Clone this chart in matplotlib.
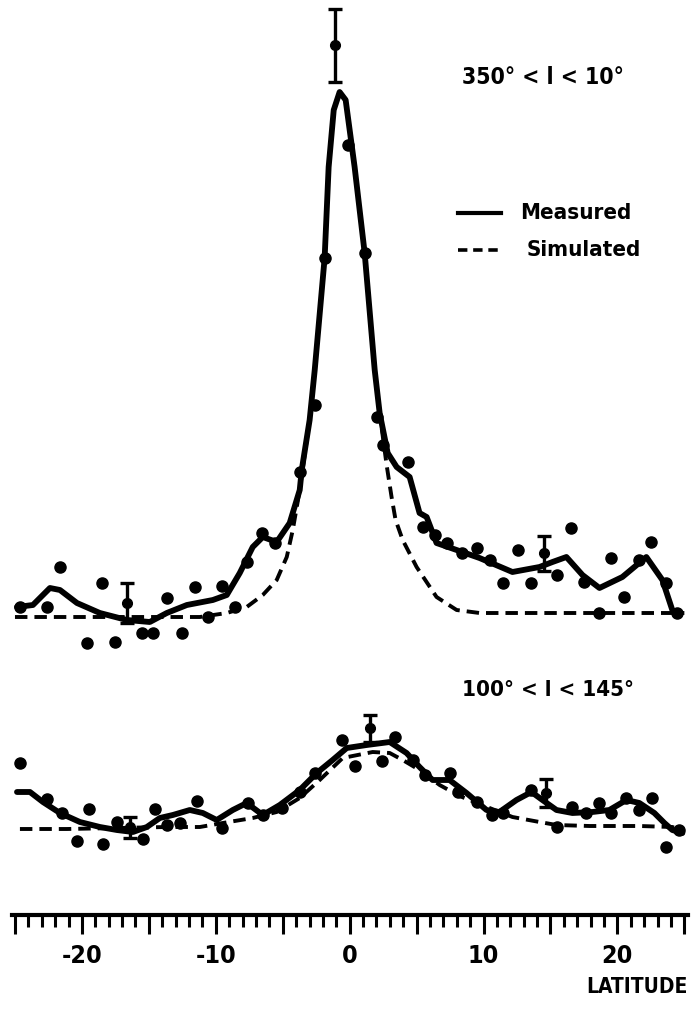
import matplotlib
matplotlib.use("Agg")
import matplotlib.pyplot as plt
from matplotlib.ticker import MultipleLocator

plt.rcParams['font.family'] = ['DejaVu Sans']
plt.rcParams['font.stretch'] = 'condensed'
plt.rcParams['font.weight'] = 'bold'

# --- upper panel: 350 < l < 10 (intensity relative to baseline, arbitrary units)
UP_MEAS_X = [-24.85, -23.66, -22.39, -21.64, -20.37, -18.66, -16.64, -14.93, -13.66, -12.16,
             -10.22, -9.18, -8.21, -7.24, -6.49, -5.45, -4.48, -3.73, -3.58, -2.99, -2.61,
             -1.87, -1.57, -1.19, -0.75, -0.30, 0.37, 1.12, 1.87, 2.24, 2.84, 3.51, 4.48,
             5.22, 5.75, 6.49, 7.99, 9.70, 12.16, 14.18, 15.15, 16.19, 17.39, 18.66, 20.37,
             22.16, 23.36, 24.10, 24.48]
UP_MEAS_Y = [0.7, 0.9, 2.6, 2.4, 1.1, 0.1, -0.6, -0.8, 0.1, 0.9,
             1.4, 1.9, 4.1, 6.7, 7.7, 7.2, 9.1, 12.4, 14.4, 19.4, 24.4,
             35.6, 44.7, 50.4, 52.2, 51.4, 44.7, 36.1, 24.4, 20.1, 16.1, 14.7, 13.7,
             10.1, 9.7, 7.1, 6.4, 5.6, 4.2, 4.7, 5.2, 5.7, 3.9, 2.6, 3.7,
             5.7, 3.4, 0.4, 0.1]

UP_SIM_X = [-25.0, -11.19, -9.18, -7.69, -6.49, -5.45, -4.70, -4.25, -3.73, -2.99, -2.61,
            -1.87, -1.57, -1.19, -0.75, -0.30, 0.37, 1.12, 1.87, 2.31, 2.76, 3.13, 3.43,
            3.96, 5.00, 6.49, 7.99, 9.70, 25.0]
UP_SIM_Y = [-0.3, -0.3, 0.1, 0.7, 1.9, 3.4, 5.7, 8.4, 12.4, 19.4, 24.4,
            35.6, 44.7, 50.4, 52.2, 51.4, 44.7, 36.1, 24.4, 19.4, 14.9, 11.7, 9.4,
            7.4, 4.7, 1.7, 0.4, 0.1, 0.1]

UP_PTS_X = [-24.63, -22.61, -21.64, -19.63, -18.51, -17.54, -15.52, -14.70, -13.66, -12.54,
            -11.57, -10.60, -9.55, -8.58, -7.69, -6.57, -5.60, -3.73, -2.61, -1.87, -0.15,
            1.12, 2.01, 2.46, 4.33, 5.45, 6.34, 7.24, 8.36, 9.48, 10.45, 11.42, 12.54,
            13.58, 15.45, 16.57, 17.54, 18.66, 19.55, 20.52, 21.64, 22.54, 23.66, 24.48]
UP_PTS_Y = [0.7, 0.7, 4.7, -2.9, 3.1, -2.8, -1.9, -1.9, 1.6, -1.9,
            2.7, -0.3, 2.8, 0.7, 5.2, 8.1, 7.1, 14.2, 20.9, 35.6, 46.9,
            36.1, 19.7, 16.9, 15.2, 8.7, 7.9, 7.1, 6.1, 6.6, 5.4, 3.1, 6.4,
            3.1, 3.9, 8.6, 3.2, 0.1, 5.6, 1.7, 5.4, 7.2, 3.1, 0.1]

UP_ERR_X = [-16.64, -1.12, 14.55]
UP_ERR_Y = [1.1, 56.9, 6.1]
UP_ERR = [2.0, 3.65, 1.75]

# --- lower panel: 100 < l < 145
LO_MEAS_X = [-24.85, -23.88, -22.91, -21.64, -20.15, -18.66, -17.39, -16.19, -15.15, -14.18,
             -13.21, -11.94, -10.97, -9.93, -8.73, -7.69, -6.49, -5.22, -3.73, -2.46,
             -1.27, -0.22, 1.27, 2.99, 4.25, 5.22, 6.19, 7.46, 8.73, 10.22, 11.19, 12.46,
             13.58, 14.40, 15.45, 16.64, 18.13, 19.40, 20.67, 21.64, 22.76, 23.51, 24.10, 24.85]
LO_MEAS_Y = [3.7, 3.7, 2.7, 1.6, 0.7, 0.2, -0.1, -0.3, 0.2, 1.1,
             1.4, 1.9, 1.6, 0.9, 1.9, 2.6, 1.4, 2.4, 3.9, 5.6,
             6.9, 8.1, 8.4, 8.7, 7.6, 6.2, 4.9, 4.9, 3.6, 1.9, 1.7, 2.9,
             3.7, 2.9, 1.9, 1.6, 1.7, 1.9, 2.9, 2.6, 1.6, 0.6, -0.1, -0.4]

LO_SIM_X = [-24.63, -21.12, -13.66, -11.19, -9.48, -7.24, -5.45, -3.73, -2.24, -0.52, 0.22,
            1.72, 2.99, 3.96, 5.22, 6.72, 8.21, 10.45, 12.16, 14.18, 15.45, 17.91, 21.64,
            24.10, 24.85]
LO_SIM_Y = [0.0, 0.0, 0.2, 0.2, 0.6, 1.1, 1.7, 3.1, 4.9, 7.1, 7.3,
            7.7, 7.6, 6.9, 5.9, 4.4, 3.3, 2.1, 1.2, 0.7, 0.4, 0.3, 0.3,
            0.2, -0.1]

LO_PTS_X = [-24.63, -22.61, -21.49, -20.37, -19.48, -18.43, -17.39, -15.45, -14.55, -13.66,
            -12.69, -11.42, -9.55, -7.61, -6.49, -5.07, -3.73, -2.61, -0.60, 0.37, 2.39,
            3.36, 4.70, 5.60, 7.46, 8.06, 9.48, 10.60, 11.42, 13.58, 15.52, 16.64, 17.69,
            18.66, 19.55, 20.67, 21.64, 22.61, 23.66, 24.63]
LO_PTS_Y = [6.6, 3.0, 1.6, -1.2, 2.0, -1.5, 0.7, -1.0, 2.0, 0.4,
            0.6, 2.8, 0.1, 2.6, 1.4, 2.1, 3.7, 5.6, 8.9, 6.3, 6.8,
            9.2, 6.9, 5.4, 5.6, 3.7, 2.7, 1.4, 1.6, 3.9, 0.2, 2.2, 1.6,
            2.6, 1.6, 3.1, 1.9, 3.1, -1.8, -0.1]

LO_ERR_X = [-16.42, 1.49, 14.63]
LO_ERR_Y = [0.2, 10.1, 3.6]
LO_ERR = [1.05, 1.35, 1.4]

TICK_LABELS = ['', '-20', '', '-10', '', '0', '', '10', '', '20', '']

# vertical offsets of the two stacked panels (layout)
OFF_UP = 30.1
OFF_LO = 8.6

W, H = 692, 1014
fig = plt.figure(figsize=(W / 100, H / 100), dpi=100)
ax = fig.add_axes([12.3 / W, 99 / H, 675.4 / W, 915 / H])
ax.set_xlim(-25.2, 25.25)
ax.set_ylim(0, 91.5)

meas_kw = dict(color='black', lw=4.2, solid_capstyle='round', solid_joinstyle='round', zorder=3)
sim_kw = dict(color='black', lw=2.8, ls=(0, (3.2, 1.8)), zorder=2)
pt_kw = dict(ls='none', marker='o', ms=8, color='black', zorder=4)
err_kw = dict(fmt='o', ms=7, color='black', elinewidth=2.4, capsize=5, capthick=2.4, zorder=5)

for off, mx, my, sx, sy, px, py, ex, ey, ee in [
        (OFF_UP, UP_MEAS_X, UP_MEAS_Y, UP_SIM_X, UP_SIM_Y, UP_PTS_X, UP_PTS_Y, UP_ERR_X, UP_ERR_Y, UP_ERR),
        (OFF_LO, LO_MEAS_X, LO_MEAS_Y, LO_SIM_X, LO_SIM_Y, LO_PTS_X, LO_PTS_Y, LO_ERR_X, LO_ERR_Y, LO_ERR)]:
    ax.plot(sx, [v + off for v in sy], **sim_kw)
    ax.plot(mx, [v + off for v in my], **meas_kw)
    ax.plot(px, [v + off for v in py], **pt_kw)
    ax.errorbar(ex, [v + off for v in ey], yerr=ee, **err_kw)

# legend drawn by hand like the original
ax.plot([8.06, 11.34], [70.2, 70.2], color='black', lw=3.0)
ax.plot([8.06, 11.34], [66.5, 66.5], color='black', lw=2.6, ls=(0, (2.6, 1.6)))
ax.text(12.7, 70.2, 'Measured', fontsize=16, va='center', ha='left')
ax.text(13.2, 66.5, 'Simulated', fontsize=16, va='center', ha='left')

ax.text(14.4, 83.8, '350° < l < 10°', fontsize=16.5, va='center', ha='center')
ax.text(14.8, 22.5, '100° < l < 145°', fontsize=16, va='center', ha='center')

for s in ['top', 'left', 'right']:
    ax.spines[s].set_visible(False)
ax.spines['bottom'].set_linewidth(3.0)
ax.set_yticks([])
ax.set_xticks(range(-25, 26, 5))
ax.set_xticklabels(TICK_LABELS)
ax.xaxis.set_minor_locator(MultipleLocator(1))
ax.tick_params(axis='x', which='major', direction='out', length=14, width=2.2, pad=7, labelsize=18)
ax.tick_params(axis='x', which='minor', direction='out', length=8.5, width=2.2)

ax.text(25.25, -7.2, 'LATITUDE', fontsize=15, ha='right', va='center')

fig.savefig('out.png', dpi=100)
